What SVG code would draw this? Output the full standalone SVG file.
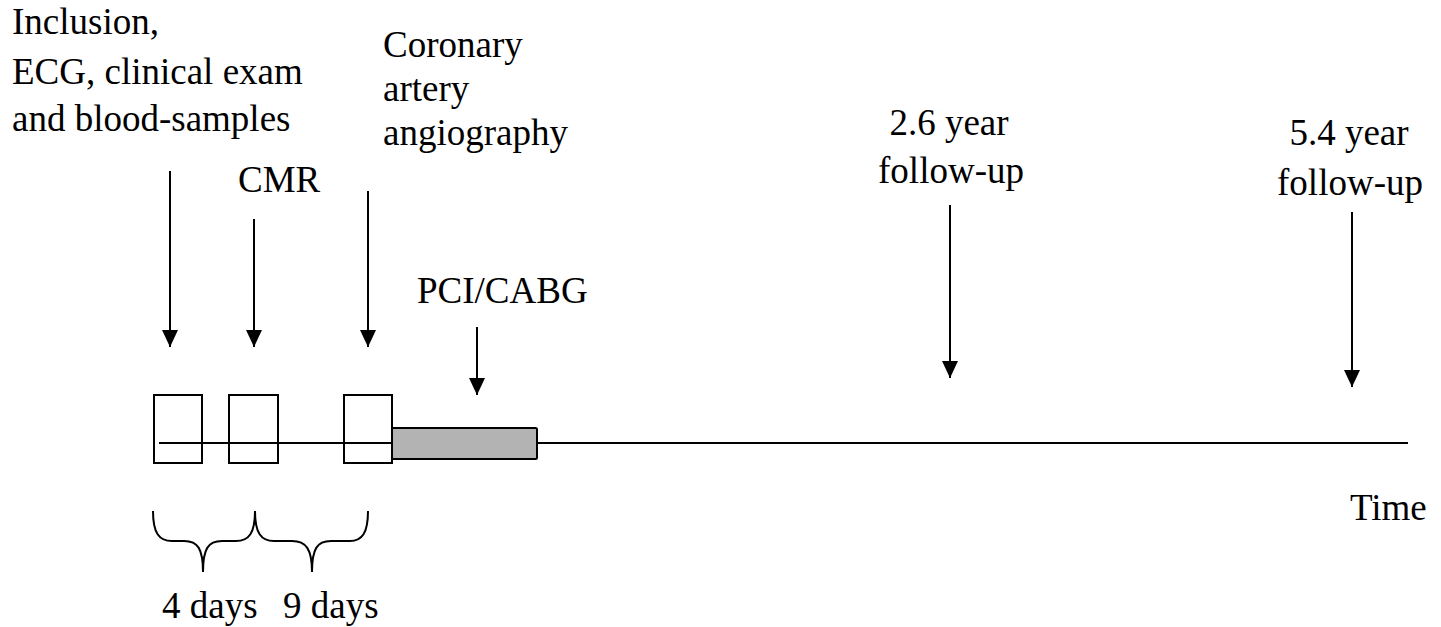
<svg xmlns="http://www.w3.org/2000/svg" width="1441" height="627" viewBox="0 0 1441 627">
<defs>
<style>
.t{font-family:'Liberation Serif',serif;font-size:37px;fill:#000}
.ln{stroke:#000;stroke-width:2;fill:none}
.box{stroke:#000;stroke-width:2;fill:#fff}
</style>
<marker id="ah" viewBox="0 0 17 16" refX="17" refY="8" markerWidth="17" markerHeight="16" markerUnits="userSpaceOnUse" orient="auto">
<path d="M0,0 L17,8 L0,16 Z" fill="#000"/>
</marker>
</defs>
<rect width="1441" height="627" fill="#fff"/>
<g id="timeline">
<rect class="box" x="154" y="395" width="48" height="68"/>
<rect class="box" x="229" y="395" width="49" height="68"/>
<rect class="box" x="344" y="395" width="48" height="68"/>
<line class="ln" x1="159" y1="443" x2="1408" y2="443"/>
<rect x="392" y="428" width="145" height="31" rx="1.5" fill="#b3b3b3" stroke="#000" stroke-width="2"/>
</g>
<g id="labels" class="t" font-family="Liberation Serif, serif" font-size="37">
<text x="12" y="34">Inclusion,</text>
<text x="12" y="84">ECG, clinical  exam</text>
<text x="12" y="131">and blood-samples</text>
<text x="383" y="57">Coronary</text>
<text x="383" y="101">artery</text>
<text x="383" y="145">angiography</text>
<text x="238" y="192">CMR</text>
<text x="417" y="303">PCI/CABG</text>
<text x="949" y="135" text-anchor="middle">2.6 year</text>
<text x="951" y="183" text-anchor="middle">follow-up</text>
<text x="1349" y="145" text-anchor="middle">5.4 year</text>
<text x="1350" y="195" text-anchor="middle">follow-up</text>
<text x="1350" y="520">Time</text>
<text x="162" y="618">4 days</text>
<text x="283" y="618">9 days</text>
</g>
<g id="connectors">
<line class="ln" x1="170" y1="171" x2="170" y2="347" marker-end="url(#ah)"/>
<line class="ln" x1="254" y1="219" x2="254" y2="347" marker-end="url(#ah)"/>
<line class="ln" x1="368" y1="191" x2="368" y2="347" marker-end="url(#ah)"/>
<line class="ln" x1="477" y1="327" x2="477" y2="395" marker-end="url(#ah)"/>
<line class="ln" x1="950" y1="205" x2="950" y2="378" marker-end="url(#ah)"/>
<line class="ln" x1="1352" y1="212" x2="1352" y2="387" marker-end="url(#ah)"/>
</g>
<g id="braces">
<path class="ln" d="M153,511 C153,533 159,541 172,541 L184,541 C198,541 203,549 203,572 C203,549 208,541 222,541 L236,541 C249,541 255,533 255,511"/>
<path class="ln" d="M255,511 C255,533 261,541 274,541 L292,541 C306,541 312,549 312,572 C312,549 317,541 331,541 L350,541 C362,541 368,533 368,511"/>
</g>
</svg>
